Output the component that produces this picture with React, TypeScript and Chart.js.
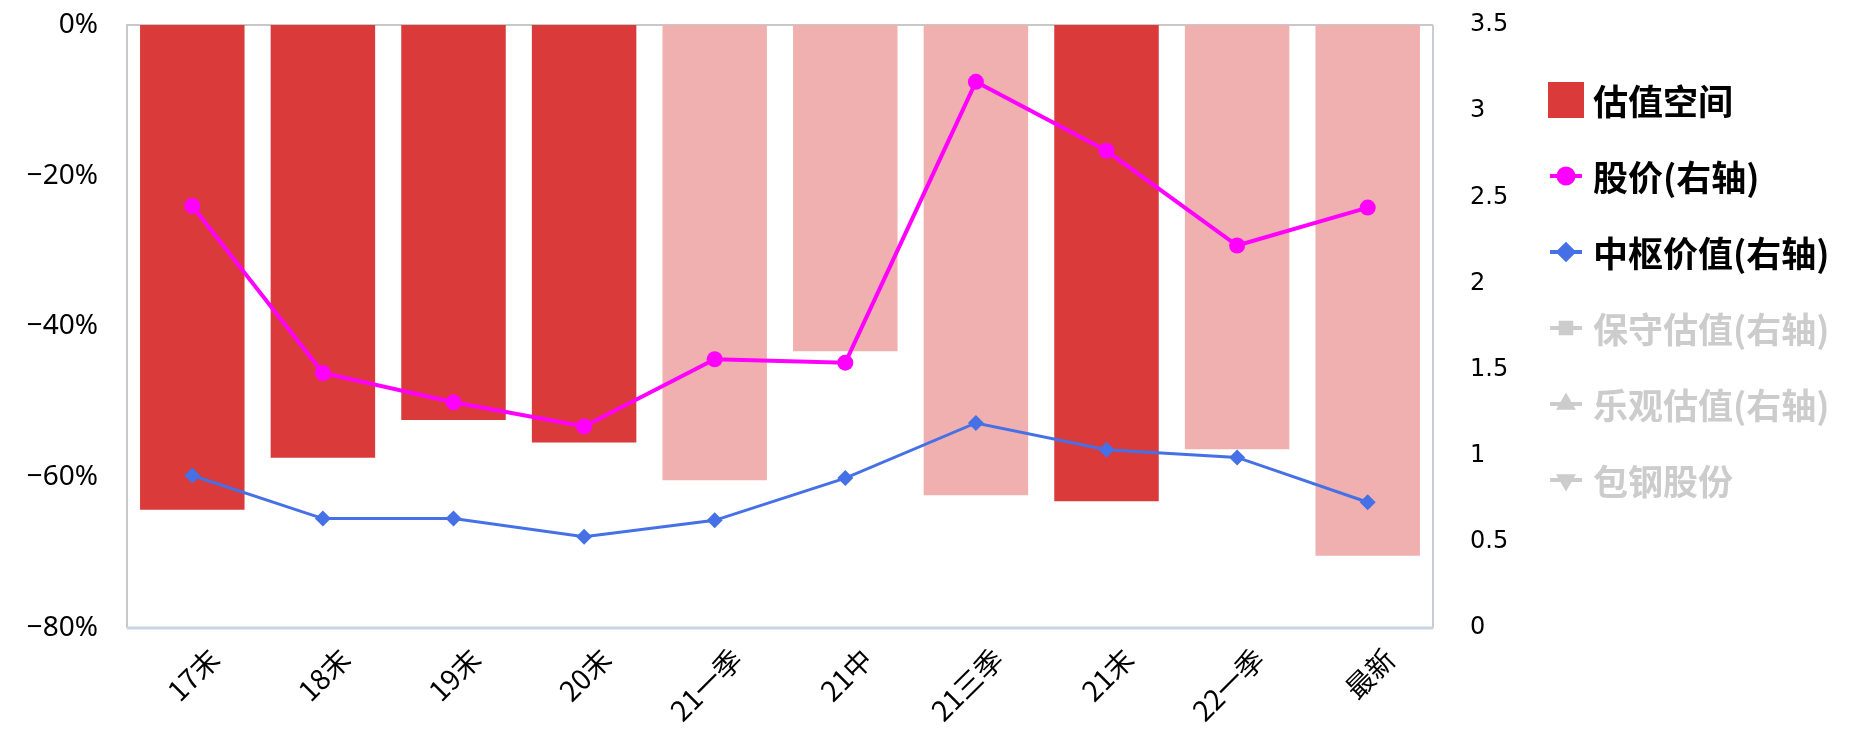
import React, { useEffect, useRef } from 'react';
import { Chart, registerables } from 'chart.js';
import { drawPoint } from 'chart.js/helpers';

Chart.register(...registerables);

// ---- data ----
const categories = ['17末', '18末', '19末', '20末', '21一季', '21中', '21三季', '21末', '22一季', '最新'];
const valuationSpace = [-64.3, -57.4, -52.4, -55.4, -60.4, -43.3, -62.4, -63.2, -56.3, -70.4];
const stockPrice = [2.45, 1.48, 1.31, 1.17, 1.56, 1.54, 3.17, 2.77, 2.22, 2.44];
const pivotValue = [0.885, 0.635, 0.635, 0.53, 0.625, 0.87, 1.19, 1.035, 0.99, 0.73];
const leftAxisRange = { min: -80, max: 0, step: 20 };
const rightAxisRange = { min: 0, max: 3.5, step: 0.5 };
const seriesNames = ['估值空间', '股价(右轴)', '中枢价值(右轴)', '保守估值(右轴)', '乐观估值(右轴)', '包钢股份'];

const DARK_RED = '#DA3A3A';
const LIGHT_RED = '#F0B0B0';
const MAGENTA = '#FF00FF';
const BLUE = '#4570E6';
const GREY = '#CCCCCC';

const W = 1852;
const H = 747;

const framePlugin = {
  id: 'frame',
  beforeDatasetsDraw(chart: any) {
    const { ctx, chartArea: a } = chart;
    ctx.save();
    ctx.lineWidth = 2;
    ctx.strokeStyle = '#C8C8C8';
    ctx.beginPath();
    ctx.moveTo(a.left, a.bottom);
    ctx.lineTo(a.left, a.top);
    ctx.lineTo(a.right, a.top);
    ctx.stroke();
    ctx.strokeStyle = '#C8CCD4';
    ctx.beginPath();
    ctx.moveTo(a.right, a.top);
    ctx.lineTo(a.right, a.bottom);
    ctx.stroke();
    ctx.strokeStyle = '#C9D3E6';
    ctx.lineWidth = 3;
    ctx.beginPath();
    ctx.moveTo(a.left, a.bottom);
    ctx.lineTo(a.right, a.bottom);
    ctx.stroke();
    ctx.restore();
  },
};

const legendPlugin = {
  id: 'sideLegend',
  afterDraw(chart: any) {
    const ctx = chart.ctx;
    const x0 = 1548;
    const y0 = 100;
    const step = 76;
    chart.data.datasets.forEach((ds: any, i: number) => {
      const y = y0 + i * step;
      const hidden = !!ds.hidden;
      ctx.save();
      if (ds.type === 'bar') {
        ctx.fillStyle = DARK_RED;
        ctx.fillRect(x0, y - 18, 36, 36);
      } else {
        const col = hidden ? GREY : ds.borderColor;
        ctx.strokeStyle = col;
        ctx.lineWidth = 4;
        ctx.beginPath();
        ctx.moveTo(x0 + 2, y);
        ctx.lineTo(x0 + 34, y);
        ctx.stroke();
        ctx.fillStyle = col;
        ctx.strokeStyle = col;
        drawPoint(ctx, { pointStyle: ds.pointStyle, radius: 7.5, rotation: ds.pointRotation || 0, borderWidth: 1 }, x0 + 18, y);
      }
      ctx.fillStyle = hidden ? GREY : '#000000';
      ctx.font = "bold 35px 'Noto Sans CJK SC'";
      ctx.textBaseline = 'middle';
      ctx.textAlign = 'left';
      ctx.fillText(ds.label, 1593, y + 2);
      ctx.restore();
    });
  },
};

const noVPad = (s: any, width: number) => {
  s.width = width;
  s.paddingTop = 0;
  s.paddingBottom = 0;
};

export default function App() {
  const ref = useRef<HTMLCanvasElement>(null);

  useEffect(() => {
    document.body.style.margin = '0';
    document.body.style.overflow = 'hidden';
    const canvas = ref.current!;
    const chart = new Chart(canvas, {
      type: 'bar',
      data: {
        labels: categories,
        datasets: [
          {
            type: 'bar',
            label: seriesNames[0],
            data: valuationSpace,
            backgroundColor: categories.map((c) => (c.endsWith('末') ? DARK_RED : LIGHT_RED)),
            yAxisID: 'y',
            categoryPercentage: 0.8,
            barPercentage: 1.0,
            order: 2,
          } as any,
          {
            type: 'line',
            label: seriesNames[1],
            data: stockPrice,
            borderColor: MAGENTA,
            backgroundColor: MAGENTA,
            borderWidth: 4,
            pointStyle: 'circle',
            pointRadius: 8,
            pointBorderWidth: 0,
            yAxisID: 'y1',
            tension: 0,
            order: 1,
          },
          {
            type: 'line',
            label: seriesNames[2],
            data: pivotValue,
            borderColor: BLUE,
            backgroundColor: BLUE,
            borderWidth: 3,
            pointStyle: 'rectRot',
            pointRadius: 8,
            pointBorderWidth: 0,
            yAxisID: 'y1',
            tension: 0,
            order: 1,
          },
          { type: 'line', label: seriesNames[3], data: [], hidden: true, borderColor: GREY, backgroundColor: GREY, pointStyle: 'rect', yAxisID: 'y1', order: 1 },
          { type: 'line', label: seriesNames[4], data: [], hidden: true, borderColor: GREY, backgroundColor: GREY, pointStyle: 'triangle', yAxisID: 'y1', order: 1 },
          { type: 'line', label: seriesNames[5], data: [], hidden: true, borderColor: GREY, backgroundColor: GREY, pointStyle: 'triangle', pointRotation: 180, yAxisID: 'y1', order: 1 } as any,
        ],
      },
      options: {
        responsive: false,
        animation: false,
        devicePixelRatio: 1,
        events: [],
        layout: { padding: { top: 25, right: 319, left: 0, bottom: 0 } },
        plugins: {
          legend: { display: false },
          tooltip: { enabled: false },
        },
        scales: {
          x: {
            grid: { display: false, drawTicks: false },
            border: { display: false },
            ticks: {
              autoSkip: false,
              maxRotation: 45,
              minRotation: 45,
              labelOffset: 22,
              padding: 14,
              color: '#000',
              font: { family: "'Noto Sans CJK SC'", size: 28 },
            },
            afterFit: (s: any) => {
              s.height = 119;
            },
          },
          y: {
            position: 'left',
            min: leftAxisRange.min,
            max: leftAxisRange.max,
            grid: { display: false, drawTicks: false },
            border: { display: false },
            ticks: {
              stepSize: leftAxisRange.step,
              padding: 29,
              color: '#000',
              font: { family: "'Noto Sans'", size: 28 },
              callback: (v: any) => (Number(v) === 0 ? '0%' : '\u2212' + Math.abs(Number(v)) + '%'),
            },
            afterFit: (s: any) => noVPad(s, 127),
          },
          y1: {
            position: 'right',
            min: rightAxisRange.min,
            max: rightAxisRange.max,
            grid: { display: false, drawTicks: false },
            border: { display: false },
            ticks: {
              stepSize: rightAxisRange.step,
              padding: 37,
              color: '#000',
              font: { family: "'DejaVu Sans'", size: 24 },
              callback: (v: any) => String(v),
            },
            afterFit: (s: any) => noVPad(s, 100),
          },
        },
      },
      plugins: [framePlugin, legendPlugin],
    });
    return () => chart.destroy();
  }, []);

  return (
    <div style={{ width: W, height: H, background: '#fff' }}>
      <canvas ref={ref} width={W} height={H} style={{ display: 'block', width: W, height: H }} />
    </div>
  );
}
